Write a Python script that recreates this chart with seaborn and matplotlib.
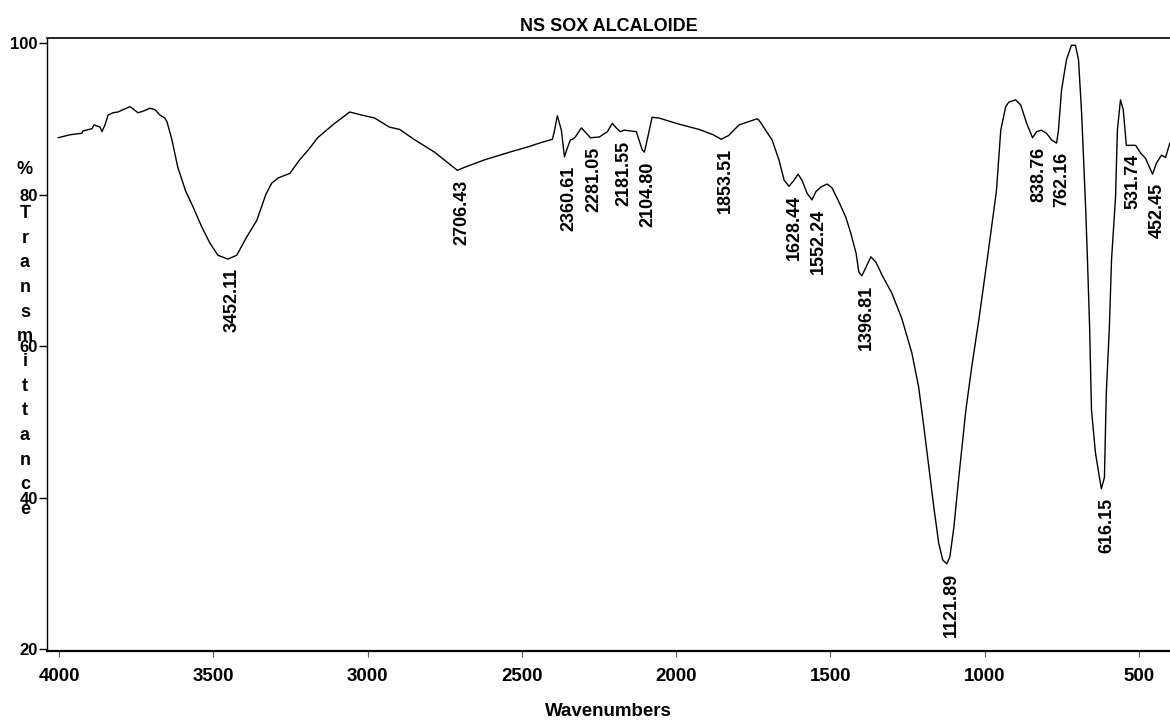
import numpy as np
import pandas as pd
import matplotlib
matplotlib.use("Agg")
import matplotlib.pyplot as plt
import seaborn as sns

# ---- data ----
wavenumber = [4003, 3964, 3926, 3922, 3893, 3887, 3867, 3861, 3851, 3841, 3825, 3809,
              3793, 3770, 3760, 3744, 3728, 3705, 3689, 3673, 3657, 3650, 3634, 3615,
              3590, 3566, 3537, 3511, 3485, 3453, 3424, 3392, 3359, 3330, 3311, 3290,
              3252, 3220, 3190, 3162, 3110, 3058, 3020, 2977, 2929, 2896, 2850, 2783,
              2740, 2709, 2686, 2620, 2540, 2480, 2443, 2401, 2395, 2385, 2372, 2362,
              2353, 2343, 2336, 2327, 2307, 2291, 2278, 2249, 2223, 2207, 2194, 2181,
              2168, 2129, 2110, 2103, 2094, 2078, 2055, 2000, 1926, 1880, 1854, 1830,
              1796, 1760, 1738, 1731, 1689, 1667, 1650, 1634, 1618, 1605, 1592, 1576,
              1560, 1547, 1531, 1511, 1495, 1472, 1450, 1434, 1417, 1408, 1398, 1385,
              1369, 1353, 1343, 1333, 1301, 1269, 1236, 1214, 1197, 1181, 1165, 1149,
              1136, 1123, 1113, 1100, 1084, 1061, 1042, 1019, 992, 962, 948,
              932, 922, 900, 883, 864, 845, 832, 816, 800, 783, 767, 761,
              751, 735, 719, 706, 696, 686, 673, 667, 660, 654, 641, 628,
              622, 612, 606, 596, 589, 576, 570, 560, 551, 541, 528, 511,
              495, 479, 469, 456, 443, 427, 414, 400]
transmittance = [87.5, 87.9, 88.1, 88.4, 88.7, 89.2, 88.9, 88.3, 89.2, 90.5, 90.8, 90.9,
                 91.2, 91.6, 91.3, 90.8, 91.0, 91.4, 91.2, 90.5, 90.1, 89.6, 87.2, 83.6,
                 80.5, 78.4, 75.7, 73.6, 72.0, 71.5, 72.0, 74.4, 76.6, 80.0, 81.5, 82.2,
                 82.8, 84.6, 86.0, 87.5, 89.3, 90.9, 90.5, 90.1, 88.9, 88.6, 87.3, 85.6,
                 84.2, 83.2, 83.6, 84.6, 85.6, 86.3, 86.8, 87.3, 88.3, 90.4, 88.5, 85.0,
                 86.1, 87.2, 87.3, 87.6, 88.8, 88.1, 87.5, 87.6, 88.3, 89.4, 88.8, 88.3,
                 88.5, 88.3, 85.9, 85.6, 87.2, 90.2, 90.1, 89.4, 88.6, 87.9, 87.3, 87.8,
                 89.2, 89.7, 90.0, 89.8, 87.2, 84.6, 81.9, 81.1, 81.9, 82.7, 81.9, 80.2,
                 79.3, 80.4, 81.0, 81.4, 80.9, 79.0, 77.0, 74.9, 72.3, 69.8, 69.3, 70.4,
                 71.8, 71.1, 70.3, 69.4, 67.0, 63.7, 59.1, 54.6, 49.3, 44.1, 38.8, 34.0,
                 31.8, 31.3, 32.2, 36.1, 42.7, 51.6, 57.3, 63.5, 71.4, 80.5, 88.5,
                 91.6, 92.2, 92.5, 91.8, 89.4, 87.5, 88.3, 88.5, 88.1, 87.2, 86.8, 88.5,
                 93.8, 97.8, 99.7, 99.7, 97.8, 90.8, 78.4, 71.4, 62.5, 51.6, 45.9, 42.7,
                 41.2, 42.7, 53.8, 62.5, 71.4, 79.7, 88.5, 92.5, 91.2, 86.5, 86.5, 86.5,
                 85.5, 84.8, 83.9, 82.7, 84.2, 85.2, 84.9, 86.8]

peak_labels = ["3452.11", "2706.43", "2360.61", "2281.05", "2181.55", "2104.80",
               "1853.51", "1628.44", "1552.24", "1396.81", "1121.89", "838.76",
               "762.16", "616.15", "531.74", "452.45"]
peak_wn = [3452.11, 2706.43, 2360.61, 2281.05, 2181.55, 2104.80, 1853.51, 1628.44,
           1552.24, 1396.81, 1121.89, 838.76, 762.16, 616.15, 531.74, 452.45]
peak_t = [71.5, 83.2, 85.0, 87.5, 88.3, 85.6, 87.3, 81.1, 79.3, 69.3, 31.3, 87.5,
          86.8, 41.2, 86.5, 82.7]

x_ticks = [4000, 3500, 3000, 2500, 2000, 1500, 1000, 500]
y_ticks = [20, 40, 60, 80, 100]

sns.set_style("white", {"text.color": "black", "axes.labelcolor": "black",
                        "xtick.color": "black", "ytick.color": "black",
                        "axes.edgecolor": "black"})
plt.rcParams['font.family'] = ['Liberation Sans', 'DejaVu Sans']
plt.rcParams['font.weight'] = 'bold'

W, H = 1170, 720
fig = plt.figure(figsize=(W / 100, H / 100), dpi=100)
ax = fig.add_axes([47 / W, (H - 651) / H, (W - 47) / W, (651 - 38) / H])

df = pd.DataFrame({"wn": wavenumber, "T": transmittance})
sns.lineplot(data=df, x="wn", y="T", sort=False, estimator=None, color="black",
             linewidth=1.0, ax=ax)

ax.set_xlim(4039, 399.5)
ax.set_ylim(19.8, 100.66)
ax.set_xticks(x_ticks)
ax.set_yticks(y_ticks)
ax.set_xticklabels([str(t) for t in x_ticks], fontsize=13.5, fontweight='bold')
ax.set_yticklabels([str(t) for t in y_ticks], fontsize=12, fontweight='bold')
ax.tick_params(axis='x', direction='out', length=4.5, width=0.8, color='#555555', pad=8,
               labelcolor='black', bottom=True)
ax.tick_params(axis='y', direction='out', length=6, width=1.0, color='black', pad=0.5,
               labelcolor='black', left=True)

for side in ['left', 'bottom', 'top']:
    ax.spines[side].set_visible(True)
    ax.spines[side].set_color('black')
ax.spines['bottom'].set_linewidth(1.6)
ax.spines['left'].set_linewidth(1.0)
ax.spines['top'].set_linewidth(1.2)
ax.spines['right'].set_visible(False)

ax.set_xlabel("Wavenumbers", fontsize=13.5, fontweight='bold', labelpad=13,
              color='black')
ax.set_ylabel("")
ax.set_title("NS SOX ALCALOIDE", fontsize=13, fontweight='bold', pad=5, color='black')

for lab, xw, yt in zip(peak_labels, peak_wn, peak_t):
    ax.annotate(lab, xy=(xw, yt), xytext=(4, -9), textcoords='offset pixels',
                rotation=90, ha='center', va='top', fontsize=13, fontweight='bold',
                color='black')

# stacked y label
fig.text(25 / W, 1 - 173.5 / H, "%", ha='center', va='baseline', fontsize=13,
         fontweight='bold', color='black')
fig.text(25 / W, 1 - 205 / H, "\n".join("Transmittance"), ha='center', va='top',
         fontsize=13, fontweight='bold', linespacing=1.59, color='black')

fig.savefig("out.png", dpi=100)
